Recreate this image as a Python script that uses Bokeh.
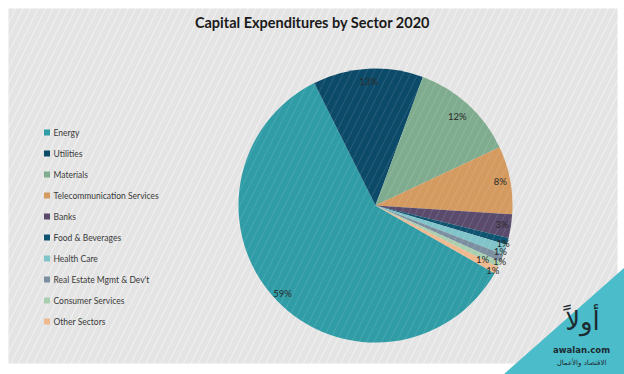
import math
from bokeh.plotting import figure
from bokeh.models import ColumnDataSource, Range1d
from bokeh.core.properties import value
from bokeh.embed import file_html
from bokeh.resources import INLINE

# ---------------- data ----------------
title = "Capital Expenditures by Sector 2020"
categories = ["Energy", "Utilities", "Materials", "Telecommunication Services", "Banks",
              "Food & Beverages", "Health Care", "Real Estate Mgmt & Dev't",
              "Consumer Services", "Other Sectors"]
shares = [59.4, 13.0, 12.4, 8.0, 2.8, 0.8, 1.2, 0.9, 0.7, 0.8]
colors = ["#2f9ca6", "#0c4a69", "#7fac8f", "#d49a5f", "#5a4b6d",
          "#0e5470", "#80c4ca", "#7b8fa1", "#a9cfb1", "#eeb98e"]
logo_word = "أولاً"
logo_site = "awalan.com"
logo_tag = "الاقتصاد والأعمال"

# ---------------- layout / style ----------------
W, H = 624, 374
cx, cy, R = 375, 169, 137
first_angle = 119.6  # degrees clockwise from 12 o'clock
label_r = [128, 124, 121, 127, 128, 133, 133, 136, 120, 134]
label_shift = [0, 0, 0, 0, 0, 1.3, 1.4, 1.7, 1.3, 0.8]

p = figure(width=W, height=H, x_range=Range1d(0, W), y_range=Range1d(0, H),
           output_backend="svg", toolbar_location=None, min_border=0)
p.axis.visible = False
p.grid.visible = False
p.outline_line_color = None
p.background_fill_color = "white"
p.border_fill_color = "white"

# panel background
p.quad(left=8, right=617, bottom=11, top=366, fill_color="#e4e4e4", line_color=None,
       hatch_pattern="/", hatch_color="white", hatch_alpha=0.55, hatch_scale=15, hatch_weight=1)

# pie
total = sum(shares)
starts, ends, lx, ly, labels = [], [], [], [], []
acc = first_angle
for i, v in enumerate(shares):
    sweep = v / total * 360.0
    a0, a1 = acc, acc + sweep
    starts.append(math.radians(90 - a0))
    ends.append(math.radians(90 - a1))
    mid = math.radians((a0 + a1) / 2 + label_shift[i])
    lx.append(cx + label_r[i] * math.sin(mid))
    ly.append(cy + label_r[i] * math.cos(mid))
    labels.append(f"{round(v)}%")
    acc = a1

src = ColumnDataSource(dict(start=starts, end=ends, color=colors))
p.wedge(x=cx, y=cy, radius=R, start_angle="start", end_angle="end", direction="clock",
        fill_color="color", line_color=None, source=src,
        hatch_pattern="/", hatch_color="white", hatch_alpha=0.12, hatch_scale=15)

p.text(x=lx, y=ly, text=labels, text_align="center", text_baseline="middle",
       text_font=value("Lato"), text_font_size="9.5px", text_color="#2a2a2a")

# legend
ys = [242 - 21 * i for i in range(len(categories))]
p.rect(x=[46.5] * len(categories), y=ys, width=6, height=6, fill_color=colors, line_color=None)
p.text(x=[53] * len(categories), y=ys, text=categories, text_baseline="middle",
       text_font=value("Lato"), text_font_size="8.5px", text_color="#3a3a3a")

# title
p.text(x=[312], y=[352], text=[title], text_align="center", text_baseline="middle",
       text_font=value("Lato"), text_font_style="bold", text_font_size="14.5px", text_color="#1a1a1a")

# logo corner
p.patch(x=[503, 624, 624], y=[0, 0, 107], fill_color="#4bbcca", line_color=None)
p.text(x=[582], y=[54], text=[logo_word], text_align="center", text_baseline="middle",
       text_font=value("DejaVu Sans"), text_font_size="26px", text_color="#1d2a30")
p.text(x=[581], y=[25], text=[logo_site], text_align="center", text_baseline="middle",
       text_font=value("DejaVu Sans"), text_font_style="bold", text_font_size="8.5px", text_color="#1d2a30")
p.text(x=[581], y=[12], text=[logo_tag], text_align="center", text_baseline="middle",
       text_font=value("DejaVu Sans"), text_font_size="7px", text_color="#1d2a30")

open("out.html", "w").write(file_html(p, INLINE))
